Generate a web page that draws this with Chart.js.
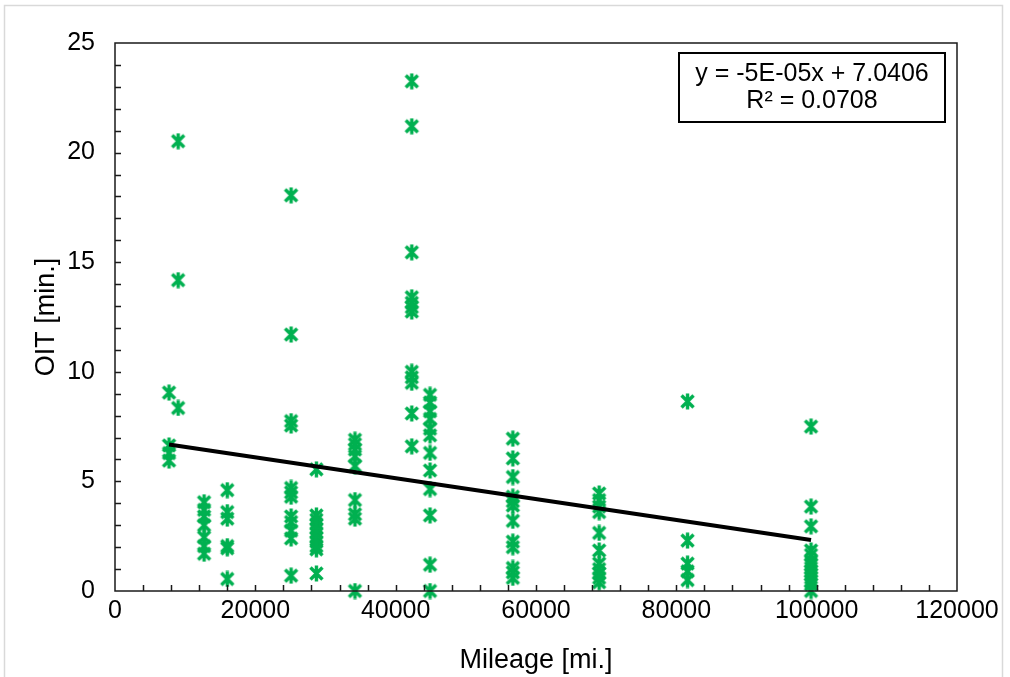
<!DOCTYPE html>
<html>
<head>
<meta charset="utf-8">
<script src="https://cdn.jsdelivr.net/npm/chart.js@4.4.1/dist/chart.umd.min.js"></script>
<style>
  body { margin: 0; background: #fff; }
  #wrap { width: 1010px; height: 677px; position: relative; }
</style>
</head>
<body>
<div id="wrap"><canvas id="myChart"></canvas></div>
<script>
/* Data: mileage groups and their OIT values */
const mileage = [7700, 9000, 12700, 16000, 25100, 28700, 34200, 42300, 44900, 56700, 69000, 81600, 99200];

const oit7700 = [9.05, 6.64, 6.29, 5.95];
const oit9000 = [20.52, 14.18, 8.35];
const oit12700 = [4.05, 3.7, 3.4, 3.0, 2.45, 2.05, 1.7];
const oit16000 = [4.6, 3.6, 3.3, 2.05, 1.95, 0.55];
const oit25100 = [18.05, 11.7, 7.75, 7.55, 4.7, 4.5, 4.3, 3.4, 3.15, 2.75, 2.4, 0.7];
const oit28700 = [5.55, 3.45, 3.25, 3.05, 2.85, 2.65, 2.45, 2.25, 2.05, 1.9, 0.8];
const oit34200 = [6.9, 6.7, 6.45, 6.15, 5.7, 4.15, 3.5, 3.3, 0];
const oit42300 = [23.25, 21.2, 15.45, 13.4, 13.15, 12.95, 12.75, 10.0, 9.75, 9.5, 8.1, 6.6];
const oit44900 = [8.95, 8.6, 8.2, 7.85, 7.4, 7.1, 6.3, 5.5, 4.65, 3.45, 1.2, 0];
const oit56700 = [6.95, 6.05, 5.2, 4.3, 4.1, 3.9, 3.2, 2.25, 2.0, 1.05, 0.85, 0.6];
const oit69000 = [4.45, 4.15, 3.85, 3.6, 2.65, 1.85, 1.25, 1.0, 0.8, 0.6, 0.4];
const oit81600 = [8.65, 2.3, 1.25, 0.9, 0.5];
const oit99200 = [7.5, 3.85, 2.95, 1.85, 1.65, 1.35, 1.2, 1.05, 0.9, 0.75, 0.6, 0.45, 0.3, 0];

const oitGroups = [oit7700, oit9000, oit12700, oit16000, oit25100, oit28700, oit34200,
    oit42300, oit44900, oit56700, oit69000, oit81600, oit99200];

// Linear trendline end points
const trendX = [7700, 99200];
const trendY = [6.68, 2.33];

const xTicks = [0, 20000, 40000, 60000, 80000, 100000, 120000];
const yTicks = [0, 5, 10, 15, 20, 25];

const equationLines = ['y = -5E-05x + 7.0406', 'R\u00b2 = 0.0708'];

const FONT = "'Liberation Sans', Arial, sans-serif";
const GREEN = '#00b050';

// Excel style star marker (X with a vertical bar)
function makeStarMarker(size, color) {
    const c = document.createElement('canvas');
    c.width = size;
    c.height = size;
    const g = c.getContext('2d');
    g.strokeStyle = color;
    g.lineWidth = 3.4;
    const lo = 2.5, hi = size - 2.5;
    g.beginPath();
    g.moveTo(lo, lo); g.lineTo(hi, hi);
    g.moveTo(hi, lo); g.lineTo(lo, hi);
    g.moveTo(size / 2, 0.5); g.lineTo(size / 2, size - 0.5);
    g.stroke();
    return c;
}

function buildPoints() {
    const pts = [];
    mileage.forEach((m, i) => {
        oitGroups[i].forEach((v) => pts.push({ x: m, y: v }));
    });
    return pts;
}

// Outer frame, plot border, inward tick marks and the equation box
const excelLook = {
    id: 'excelLook',
    beforeDraw(chart) {
        const ctx = chart.ctx;
        ctx.save();
        ctx.fillStyle = '#fff';
        ctx.fillRect(0, 0, chart.width, chart.height);
        ctx.strokeStyle = '#d9d9d9';
        ctx.lineWidth = 1.5;
        ctx.strokeRect(4.5, 5.5, 998, 700);
        ctx.restore();
    },
    afterDraw(chart) {
        const { ctx, chartArea: a, scales: { x, y } } = chart;
        ctx.save();
        ctx.strokeStyle = '#1a1a1a';
        ctx.lineWidth = 1.5;
        ctx.beginPath();
        for (let v = 4000; v < 120000; v += 4000) {
            const px = Math.round(x.getPixelForValue(v)) + 0.5;
            ctx.moveTo(px, a.bottom);
            ctx.lineTo(px, a.bottom - 6);
        }
        for (let v = 1; v < 25; v += 1) {
            const py = Math.round(y.getPixelForValue(v)) + 0.5;
            ctx.moveTo(a.left, py);
            ctx.lineTo(a.left + 6, py);
        }
        ctx.stroke();
        ctx.strokeRect(a.left, a.top, a.right - a.left, a.bottom - a.top);

        // equation label
        const bw = 266, bh = 69;
        const bx = a.right - 12 - bw, by = a.top + 10;
        ctx.fillStyle = '#fff';
        ctx.fillRect(bx, by, bw, bh);
        ctx.strokeStyle = '#000';
        ctx.lineWidth = 2;
        ctx.strokeRect(bx, by, bw, bh);
        ctx.fillStyle = '#000';
        ctx.font = `25px ${FONT}`;
        ctx.textAlign = 'center';
        ctx.textBaseline = 'middle';
        ctx.fillText(equationLines[0], bx + bw / 2, by + 21);
        ctx.fillText(equationLines[1], bx + bw / 2, by + 48);
        ctx.restore();
    }
};

const ctx = document.getElementById('myChart').getContext('2d');
const chart = new Chart(ctx, {
    type: 'scatter',
    data: {
        datasets: [
            {
                label: 'OIT',
                data: buildPoints(),
                pointStyle: makeStarMarker(17, GREEN),
                pointRadius: 8,
                clip: false,
                order: 2
            },
            {
                label: 'Linear',
                type: 'line',
                data: trendX.map((v, i) => ({ x: v, y: trendY[i] })),
                borderColor: '#000',
                borderWidth: 4,
                pointRadius: 0,
                fill: false,
                order: 1
            }
        ]
    },
    options: {
        responsive: true,
        maintainAspectRatio: false,
        animation: false,
        layout: { padding: { left: 0, right: 53, top: 43, bottom: 0 } },
        plugins: {
            legend: { display: false },
            tooltip: { enabled: false }
        },
        scales: {
            x: {
                type: 'linear',
                min: 0,
                max: 120000,
                afterBuildTicks: (s) => { s.ticks = xTicks.map((v) => ({ value: v })); },
                afterFit: (s) => { s.height = 86; },
                grid: { display: false, drawTicks: false },
                border: { display: false },
                ticks: {
                    padding: 5,
                    color: '#000',
                    font: { family: FONT, size: 25 },
                    callback: (v) => String(v)
                },
                title: {
                    display: true,
                    text: 'Mileage [mi.]',
                    color: '#000',
                    font: { family: FONT, size: 27 },
                    padding: { top: 0, bottom: 0 }
                }
            },
            y: {
                type: 'linear',
                min: 0,
                max: 25,
                afterBuildTicks: (s) => { s.ticks = yTicks.map((v) => ({ value: v })); },
                afterFit: (s) => { s.width = 115; },
                grid: { display: false, drawTicks: false },
                border: { display: false },
                ticks: {
                    padding: 20,
                    color: '#000',
                    font: { family: FONT, size: 25 },
                    callback: (v) => String(v)
                },
                title: {
                    display: true,
                    text: 'OIT [min.]',
                    color: '#000',
                    font: { family: FONT, size: 27 },
                    padding: { top: 30, bottom: 0 }
                }
            }
        }
    },
    plugins: [excelLook]
});
</script>
</body>
</html>
